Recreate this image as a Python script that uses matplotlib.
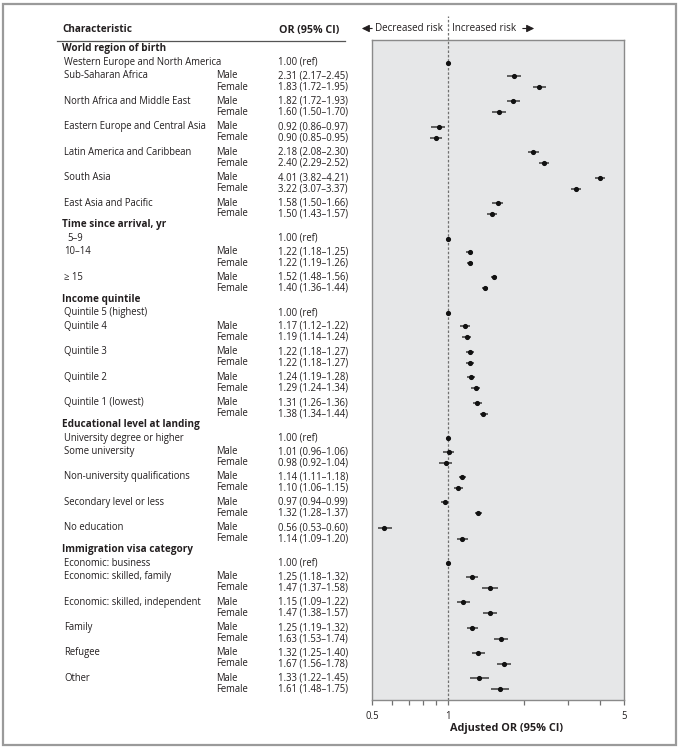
import matplotlib
matplotlib.use("Agg")
import matplotlib.pyplot as plt
import matplotlib.transforms as mtransforms
from matplotlib.patches import Rectangle
import numpy as np

plt.rcParams['font.family'] = ['Open Sans', 'DejaVu Sans']

# ---------------- data ----------------
section_titles = ["World region of birth", "Time since arrival, yr", "Income quintile",
                  "Educational level at landing", "Immigration visa category"]

ref_items = ["Western Europe and North America", "5\u20139", "Quintile 5 (highest)",
             "University degree or higher", "Economic: business"]

pair_items = [
    ["Sub-Saharan Africa", "North Africa and Middle East", "Eastern Europe and Central Asia",
     "Latin America and Caribbean", "South Asia", "East Asia and Pacific"],
    ["10\u201314", "\u2265 15"],
    ["Quintile 4", "Quintile 3", "Quintile 2", "Quintile 1 (lowest)"],
    ["Some university", "Non-university qualifications", "Secondary level or less", "No education"],
    ["Economic: skilled, family", "Economic: skilled, independent", "Family", "Refugee", "Other"],
]

male_or = [2.31, 1.82, 0.92, 2.18, 4.01, 1.58, 1.22, 1.52, 1.17, 1.22, 1.24, 1.31,
           1.01, 1.14, 0.97, 0.56, 1.25, 1.15, 1.25, 1.32, 1.33]
male_lo = [2.17, 1.72, 0.86, 2.08, 3.82, 1.50, 1.18, 1.48, 1.12, 1.18, 1.19, 1.26,
           0.96, 1.11, 0.94, 0.53, 1.18, 1.09, 1.19, 1.25, 1.22]
male_hi = [2.45, 1.93, 0.97, 2.30, 4.21, 1.66, 1.25, 1.56, 1.22, 1.27, 1.28, 1.36,
           1.06, 1.18, 0.99, 0.60, 1.32, 1.22, 1.32, 1.40, 1.45]
female_or = [1.83, 1.60, 0.90, 2.40, 3.22, 1.50, 1.22, 1.40, 1.19, 1.22, 1.29, 1.38,
             0.98, 1.10, 1.32, 1.14, 1.47, 1.47, 1.63, 1.67, 1.61]
female_lo = [1.72, 1.50, 0.85, 2.29, 3.07, 1.43, 1.19, 1.36, 1.14, 1.18, 1.24, 1.34,
             0.92, 1.06, 1.28, 1.09, 1.37, 1.38, 1.53, 1.56, 1.48]
female_hi = [1.95, 1.70, 0.95, 2.52, 3.37, 1.57, 1.26, 1.44, 1.24, 1.27, 1.34, 1.44,
             1.04, 1.15, 1.37, 1.20, 1.58, 1.57, 1.74, 1.78, 1.75]

# rows whose markers are drawn with male/female swapped in the original figure
plotted_swapped = ["Sub-Saharan Africa"]

x_ticks_major = [0.5, 1, 5]
x_ticks_minor = [0.6, 0.7, 0.8, 0.9, 2, 3, 4]

# ---------------- layout ----------------
W, H = 680, 749
fig = plt.figure(figsize=(W / 100, H / 100), dpi=100)
fig.patch.set_facecolor('white')

ax_l, ax_r, ax_t, ax_b = 372, 624, 40, 700
ax = fig.add_axes([ax_l / W, 1 - ax_b / H, (ax_r - ax_l) / W, (ax_b - ax_t) / H])
ax.set_xscale('log')
ax.set_xlim(0.5, 5)
ax.set_ylim(ax_b, ax_t)
ax.set_facecolor('#e6e7e8')
for s in ax.spines.values():
    s.set_color('#8a8a8a')
    s.set_linewidth(1.0)

trans = mtransforms.blended_transform_factory(fig.transFigure, ax.transData)
txt_color = '#231f20'
fs = 6.85
fsb = 7.2

def ftext(xpx, y, s, **kw):
    kw.setdefault('fontsize', fs)
    kw.setdefault('color', txt_color)
    kw.setdefault('va', 'center')
    fig.text(xpx / W, y, s, transform=trans, **kw)

# header
ftext(62, 30, "Characteristic", fontweight='bold', fontsize=fsb)
ftext(279, 30, "OR (95% CI)", fontweight='bold', fontsize=7.7, ha='left')
fig.add_artist(plt.Line2D([57 / W, 345 / W], [1 - 40.5 / H, 1 - 40.5 / H],
                          color='#555555', lw=0.9, transform=fig.transFigure))

# risk labels
ftext(443, 28.5, "Decreased risk", ha='right', fontsize=7.1)
ftext(452, 28.5, "Increased risk", ha='left', fontsize=7.1)
fig.add_artist(matplotlib.patches.FancyArrowPatch((375 / W, 1 - 28.5 / H), (359 / W, 1 - 28.5 / H),
               transform=fig.transFigure, arrowstyle='-|>,head_length=4.5,head_width=2.2',
               color=txt_color, lw=0.8, mutation_scale=1))
fig.add_artist(matplotlib.patches.FancyArrowPatch((520 / W, 1 - 28.5 / H), (537 / W, 1 - 28.5 / H),
               transform=fig.transFigure, arrowstyle='-|>,head_length=4.5,head_width=2.2',
               color=txt_color, lw=0.8, mutation_scale=1))

# dashed reference line
ax.plot([1, 1], [ax_b, 16], color='#707070', lw=0.9, ls=(0, (2, 1.5)), clip_on=False, zorder=1)

# rows
gap_head_ref, gap_ref_m, gap_m_f, gap_f_m, gap_f_head = 13.5, 13.5, 11.0, 14.4, 11.0
y = 49.0
k = 0
ms = 2.7
for si, title in enumerate(section_titles):
    if si > 0:
        y += gap_f_head
    ftext(62, y, title, fontweight='bold', fontsize=fsb)
    y += gap_head_ref
    ref_x = 67 if si == 1 else 64
    ftext(ref_x, y, ref_items[si])
    ftext(278, y, "1.00 (ref)")
    ax.plot(1.0, y, 'o', color='#111111', ms=ms, zorder=4)
    y += gap_ref_m
    for pi, name in enumerate(pair_items[si]):
        if pi > 0:
            y += gap_f_m
        ym, yf = y, y + gap_m_f
        ftext(64, ym, name)
        ftext(216, ym, "Male")
        ftext(216, yf, "Female")
        ftext(278, ym, f"{male_or[k]:.2f} ({male_lo[k]:.2f}\u2013{male_hi[k]:.2f})")
        ftext(278, yf, f"{female_or[k]:.2f} ({female_lo[k]:.2f}\u2013{female_hi[k]:.2f})")
        m = (male_or[k], male_lo[k], male_hi[k])
        f = (female_or[k], female_lo[k], female_hi[k])
        if name in plotted_swapped:
            m, f = f, m
        for (e, lo, hi), yy in ((m, ym), (f, yf)):
            ax.errorbar([e], [yy], xerr=[[e - lo], [hi - e]], fmt='o', color='#111111',
                        ecolor='#3a3a3a', elinewidth=1.1, capsize=0, ms=ms, zorder=4)
        y = yf
        k += 1

# axis ticks
ax.set_yticks([])
ax.set_xticks(x_ticks_major)
ax.set_xticklabels([str(v) for v in x_ticks_major])
ax.set_xticks(x_ticks_minor, minor=True)
ax.xaxis.set_minor_formatter(matplotlib.ticker.NullFormatter())
ax.tick_params(axis='x', which='both', direction='out', length=3.3, width=0.9,
               color='#707070', labelsize=fs, labelcolor=txt_color, pad=4.5)

fig.text(506 / W, 1 - 728 / H, "Adjusted OR (95% CI)", fontsize=7.8, fontweight='bold',
         color=txt_color, ha='center', va='center')

# outer frame
fig.add_artist(Rectangle((3 / W, 4 / H), (676 - 3) / W, (745 - 4) / H, transform=fig.transFigure,
                         fill=False, edgecolor='#9a9a9a', lw=1.6))

fig.savefig('out.png', dpi=100)
